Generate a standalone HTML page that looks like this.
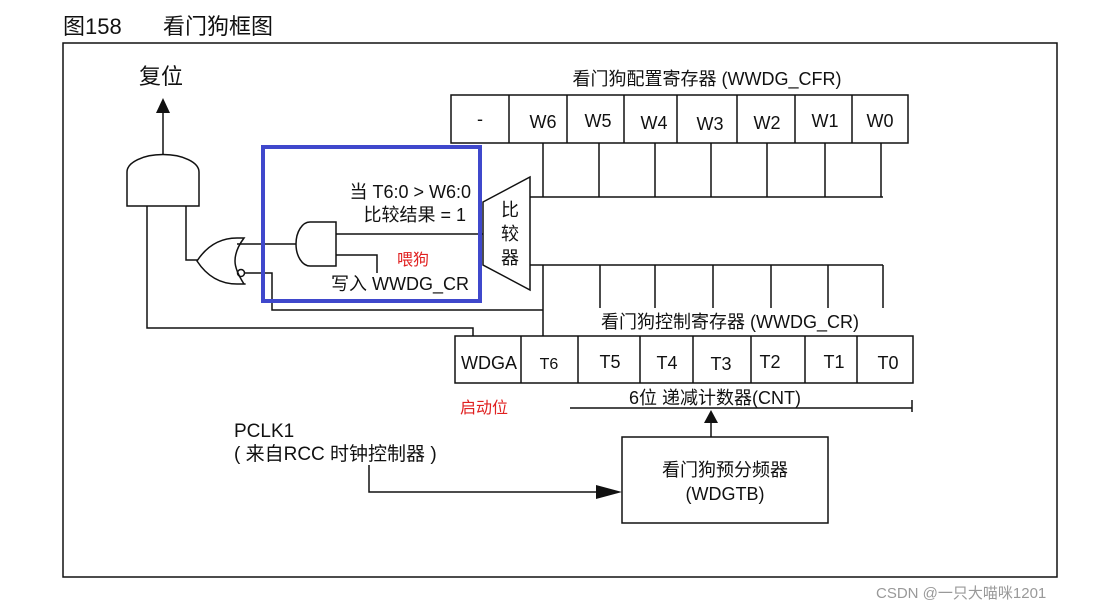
<!DOCTYPE html>
<html><head><meta charset="utf-8"><style>
body{margin:0;background:#fff}
svg{display:block}
text{font-family:"Liberation Sans","Noto Sans CJK SC",sans-serif;fill:#111}
</style></head><body>
<svg width="1110" height="610" viewBox="0 0 1110 610" xmlns="http://www.w3.org/2000/svg">
<g stroke="#111" stroke-width="1.5" fill="none">
<rect x="63" y="43" width="994" height="534"/>
<rect x="451" y="95" width="457" height="48"/>
<path d="M509 95V143M567 95V143M624 95V143M677 95V143M737 95V143M795 95V143M852 95V143"/>
<path d="M543 143V197M599 143V197M655 143V197M711 143V197M767 143V197M825 143V197M881 143V197M530 197H883"/>
<path d="M483 202L530 177V290L483 265Z"/>
<path d="M530 265H883M543 265V336M600 265V308M655 265V308M713 265V308M771 265V308M828 265V308M883 265V308"/>
<rect x="455" y="336" width="458" height="47"/>
<path d="M521 336V383M578 336V383M640 336V383M693 336V383M751 336V383M805 336V383M857 336V383"/>
<path d="M570 408H912M912 400V412M711 437V420"/>
<rect x="622" y="437" width="206" height="86"/>
<path d="M369 465V492H600"/>
<path d="M127 206V172A35 17 0 0 1 199 172V206Z"/>
<path d="M163 155V110"/>
<path d="M147 206V328H473V336"/>
<path d="M186 206V260H198"/>
<path d="M237 238Q212 238 197 261Q212 284 237 284Q248 284 244 284Q235 270 235 261Q235 250 244 238Z"/>
<circle cx="241" cy="273" r="3.5"/>
<path d="M237 244H296M245 273H272V310H543"/>
<path d="M336 222H310A14 22 0 0 0 310 266H336Z"/>
<path d="M336 234H483M336 255H377V273"/>
</g>
<polygon points="163,98 156,113 170,113" fill="#111"/>
<polygon points="711,410 704,423 718,423" fill="#111"/>
<polygon points="622,492 596,485 596,499" fill="#111"/>
<rect x="263" y="147" width="217" height="154" fill="none" stroke="#3f48cc" stroke-width="4"/>
<g font-size="22">
<text x="63" y="34">图158</text>
<text x="163" y="34">看门狗框图</text>
</g>
<text x="139" y="84" font-size="22">复位</text>
<g font-size="18" text-anchor="middle">
<text x="707" y="85">看门狗配置寄存器 (WWDG_CFR)</text>
<text x="480" y="125">-</text><text x="543" y="128">W6</text><text x="598" y="127">W5</text><text x="654" y="129">W4</text><text x="710" y="130">W3</text><text x="767" y="129">W2</text><text x="825" y="127">W1</text><text x="880" y="127">W0</text>
<text x="730" y="328">看门狗控制寄存器 (WWDG_CR)</text>
<text x="489" y="369">WDGA</text><text x="549" y="369" font-size="16">T6</text><text x="610" y="368">T5</text><text x="667" y="369">T4</text><text x="721" y="370">T3</text><text x="770" y="368">T2</text><text x="834" y="368">T1</text><text x="888" y="369">T0</text>
<text x="715" y="404">6位 递减计数器(CNT)</text>
<text x="725" y="476">看门狗预分频器</text>
<text x="725" y="500">(WDGTB)</text>
<text x="510" y="216">比</text><text x="510" y="240">较</text><text x="510" y="264">器</text>
</g>
<g font-size="18" text-anchor="end">
<text x="471" y="198">当 T6:0 &gt; W6:0</text>
<text x="466" y="221">比较结果 = 1</text>
<text x="469" y="290">写入 WWDG_CR</text>
</g>
<text x="234" y="437" font-size="19">PCLK1</text>
<text x="234" y="460" font-size="19">( 来自RCC 时钟控制器 )</text>
<text x="397" y="265" font-size="16" style="fill:#e02020">喂狗</text>
<text x="460" y="413" font-size="16" style="fill:#e02020">启动位</text>
<text x="876" y="598" font-size="15" style="fill:#999">CSDN @一只大喵咪1201</text>
</svg>
</body></html>
